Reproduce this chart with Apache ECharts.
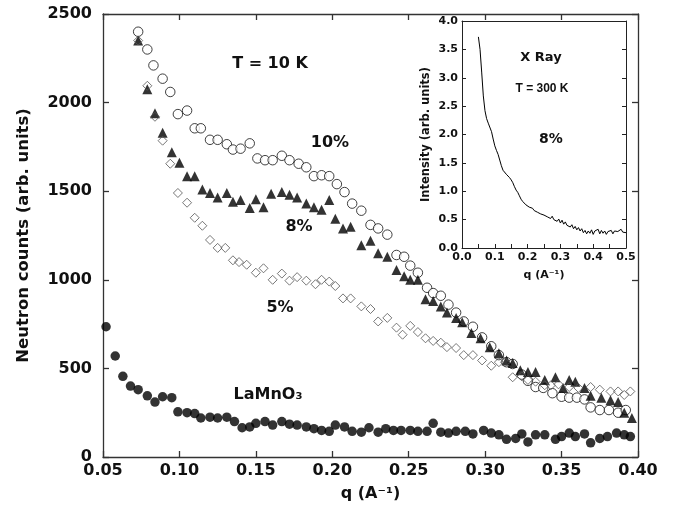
<!DOCTYPE html>
<html>
<head>
<meta charset="utf-8">
<script src="https://cdn.jsdelivr.net/npm/echarts@6/dist/echarts.min.js"></script>
<style>
  html, body { margin: 0; padding: 0; background: #fff; }
  #chart { width: 678px; height: 512px; }
</style>
</head>
<body>
<div id="chart"></div>
<script>
// 10 % sample, open circles
const q10 = [0.073,0.079,0.083,0.089,0.094,0.099,0.105,0.110,0.114,0.120,0.125,0.131,0.135,0.140,0.146,0.151,0.156,0.161,0.167,0.172,0.178,0.183,0.188,0.193,0.198,0.203,0.208,0.213,0.219,0.225,0.230,0.236,0.242,0.247,0.251,0.256,0.262,0.266,0.271,0.276,0.281,0.286,0.292,0.298,0.304,0.309,0.314,0.318,0.324,0.328,0.333,0.338,0.344,0.350,0.355,0.360,0.365,0.369,0.375,0.381,0.387,0.392];
const counts10 = [2400,2300,2210,2135,2060,1935,1955,1855,1855,1790,1790,1765,1735,1740,1770,1685,1675,1675,1700,1675,1655,1635,1585,1590,1585,1540,1495,1430,1390,1310,1290,1255,1140,1130,1080,1040,955,925,910,860,815,765,735,675,625,575,535,525,465,430,395,390,360,340,335,335,325,280,265,265,250,265];

// 8 % sample, filled triangles
const q8 = [0.073,0.079,0.084,0.089,0.095,0.100,0.105,0.110,0.115,0.120,0.125,0.131,0.135,0.140,0.146,0.150,0.155,0.160,0.167,0.172,0.177,0.183,0.188,0.193,0.198,0.202,0.207,0.212,0.219,0.225,0.230,0.236,0.242,0.247,0.251,0.256,0.261,0.266,0.271,0.275,0.281,0.285,0.291,0.297,0.303,0.309,0.314,0.318,0.323,0.328,0.333,0.339,0.346,0.351,0.355,0.359,0.365,0.369,0.376,0.382,0.387,0.391,0.396];
const counts8 = [2350,2075,1940,1830,1720,1660,1585,1585,1510,1490,1465,1490,1440,1450,1405,1455,1410,1485,1495,1480,1465,1430,1410,1395,1450,1345,1290,1300,1195,1220,1150,1130,1055,1020,1000,1000,890,880,850,815,785,760,700,670,620,585,545,530,490,480,480,435,450,390,435,425,390,345,335,320,310,250,220];

// 5 % sample, open diamonds
const q5 = [0.073,0.079,0.084,0.089,0.094,0.099,0.105,0.110,0.115,0.120,0.125,0.130,0.135,0.139,0.144,0.150,0.155,0.161,0.167,0.172,0.177,0.183,0.189,0.193,0.198,0.202,0.207,0.212,0.219,0.225,0.230,0.236,0.242,0.246,0.251,0.256,0.261,0.266,0.271,0.275,0.281,0.286,0.292,0.298,0.304,0.309,0.313,0.318,0.324,0.328,0.333,0.339,0.343,0.348,0.355,0.361,0.369,0.375,0.382,0.387,0.391,0.395];
const counts5 = [2350,2095,1920,1785,1655,1490,1435,1350,1305,1225,1180,1180,1110,1100,1085,1040,1065,1000,1035,995,1015,995,975,1000,990,965,895,895,850,835,765,785,730,690,740,705,670,655,645,620,615,575,575,545,515,535,535,450,455,435,425,405,405,410,395,390,395,380,370,370,350,370];

// LaMnO3, filled circles
const qLa = [0.052,0.058,0.063,0.068,0.073,0.079,0.084,0.089,0.095,0.099,0.105,0.110,0.114,0.120,0.125,0.131,0.136,0.141,0.146,0.150,0.156,0.161,0.167,0.172,0.177,0.183,0.188,0.193,0.198,0.202,0.208,0.213,0.219,0.224,0.230,0.235,0.240,0.245,0.251,0.256,0.262,0.266,0.271,0.276,0.281,0.287,0.292,0.299,0.304,0.309,0.314,0.320,0.324,0.328,0.333,0.339,0.346,0.350,0.355,0.359,0.365,0.369,0.375,0.380,0.386,0.391,0.395];
const countsLa = [735,570,455,400,380,345,310,340,335,255,250,245,220,225,220,225,200,165,170,190,200,180,200,185,180,170,160,150,145,180,170,145,140,165,140,160,150,150,150,145,145,190,140,135,145,145,130,150,135,125,100,105,130,85,125,125,100,115,135,115,130,80,105,115,135,125,115];

// inset: X-ray intensity, 8 %, T = 300 K
const xrayQ = [0.050,0.055,0.060,0.065,0.070,0.075,0.080,0.085,0.090,0.095,0.100,0.105,0.110,0.115,0.120,0.125,0.130,0.135,0.140,0.145,0.150,0.155,0.160,0.165,0.170,0.175,0.180,0.185,0.190,0.195,0.200,0.205,0.210,0.215,0.220,0.225,0.230,0.235,0.240,0.245,0.250,0.255,0.260,0.265,0.270,0.275,0.280,0.285,0.290,0.295,0.300,0.305,0.310,0.315,0.320,0.325,0.330,0.335,0.340,0.345,0.350,0.355,0.360,0.365,0.370,0.375,0.380,0.385,0.390,0.395,0.400,0.405,0.410,0.415,0.420,0.425,0.430,0.435,0.440,0.445,0.450,0.455,0.460,0.465,0.470,0.475,0.480,0.485,0.490,0.495,0.500];
const xrayI = [3.72,3.50,3.10,2.68,2.42,2.28,2.20,2.22,2.05,1.92,1.80,1.72,1.65,1.55,1.45,1.37,1.34,1.30,1.28,1.24,1.20,1.15,1.08,1.02,0.98,0.92,0.86,0.82,0.85,0.76,0.78,0.72,0.75,0.70,0.66,0.68,0.63,0.65,0.60,0.63,0.58,0.61,0.55,0.57,0.52,0.56,0.50,0.53,0.47,0.51,0.44,0.49,0.42,0.46,0.40,0.43,0.37,0.41,0.34,0.38,0.32,0.36,0.30,0.34,0.27,0.31,0.25,0.30,0.26,0.32,0.24,0.30,0.27,0.33,0.25,0.31,0.26,0.30,0.24,0.29,0.27,0.31,0.25,0.30,0.27,0.29,0.26,0.33,0.28,0.30,0.27];

const pairs = (xs, ys) => xs.map((x, i) => [x, ys[i]]);

const FONT = "'DejaVu Sans', sans-serif";
const INK = '#111';

function frameAxis(extra) {
  return Object.assign({
    type: 'value',
    axisLine: { show: true, onZero: false, lineStyle: { color: '#333', width: 1.3 } },
    axisTick: { show: true, inside: true, length: 6, lineStyle: { color: '#333', width: 1.3 } },
    splitLine: { show: false },
  }, extra);
}

const myChart = echarts.init(document.getElementById('chart'));
const option = {
  animation: false,
  backgroundColor: '#fff',
  grid: [
    { left: 103, top: 14, right: 40, bottom: 55 },
    { left: 462, top: 21, right: 52, bottom: 264, show: true, backgroundColor: '#fff', borderWidth: 0 },
  ],
  xAxis: [
    frameAxis({
      gridIndex: 0, position: 'bottom', min: 0.05, max: 0.40, interval: 0.05,
      axisLabel: { margin: 6, color: INK, fontFamily: FONT, fontWeight: 'bold', fontSize: 16,
        formatter: v => v.toFixed(2) },
      name: 'q (A⁻¹)', nameLocation: 'middle', nameGap: 29,
      nameTextStyle: { color: INK, fontFamily: FONT, fontWeight: 'bold', fontSize: 16 },
    }),
    frameAxis({ gridIndex: 0, position: 'top', min: 0.05, max: 0.40, interval: 0.05,
      axisLabel: { show: false } }),
    frameAxis({
      gridIndex: 1, position: 'bottom', min: 0, max: 0.5, interval: 0.1,
      axisTick: { show: true, inside: true, length: 4, lineStyle: { color: '#222', width: 1 } },
      minorTick: { show: true, splitNumber: 2, length: 4, lineStyle: { color: '#222', width: 1 } },
      axisLine: { show: true, onZero: false, lineStyle: { color: '#222', width: 1 } },
      axisLabel: { margin: 4, color: INK, fontFamily: FONT, fontWeight: 'bold', fontSize: 11,
        formatter: v => v.toFixed(1) },
      name: 'q (A⁻¹)', nameLocation: 'middle', nameGap: 22,
      nameTextStyle: { color: INK, fontFamily: FONT, fontWeight: 'bold', fontSize: 11 },
    }),
    frameAxis({
      gridIndex: 1, position: 'top', min: 0, max: 0.5, interval: 0.1,
      axisTick: { show: false },
      axisLine: { show: true, onZero: false, lineStyle: { color: '#222', width: 1 } },
      axisLabel: { show: false },
    }),
  ],
  yAxis: [
    frameAxis({
      gridIndex: 0, position: 'left', min: 0, max: 2500, interval: 500,
      axisLabel: { margin: 11, color: INK, fontFamily: FONT, fontWeight: 'bold', fontSize: 16,
        formatter: v => String(v) },
      name: 'Neutron counts (arb. units)', nameLocation: 'middle', nameGap: 71,
      nameTextStyle: { color: INK, fontFamily: FONT, fontWeight: 'bold', fontSize: 16.5 },
    }),
    frameAxis({ gridIndex: 0, position: 'right', min: 0, max: 2500, interval: 500,
      axisLabel: { show: false } }),
    frameAxis({
      gridIndex: 1, position: 'left', min: 0, max: 4, interval: 0.5,
      axisTick: { show: true, inside: true, length: 4, lineStyle: { color: '#222', width: 1 } },
      axisLine: { show: true, onZero: false, lineStyle: { color: '#222', width: 1 } },
      axisLabel: { margin: 4, color: INK, fontFamily: FONT, fontWeight: 'bold', fontSize: 11,
        formatter: v => v.toFixed(1) },
      name: 'Intensity (arb. units)', nameLocation: 'middle', nameGap: 30,
      nameTextStyle: { color: INK, fontFamily: FONT, fontWeight: 'bold', fontSize: 11.5 },
    }),
    frameAxis({
      gridIndex: 1, position: 'right', min: 0, max: 4, interval: 0.5,
      axisTick: { show: true, inside: true, length: 4, lineStyle: { color: '#222', width: 1 } },
      axisLine: { show: true, onZero: false, lineStyle: { color: '#222', width: 1 } },
      axisLabel: { show: false },
    }),
  ],
  series: [
    {
      name: '10%', type: 'scatter', xAxisIndex: 0, yAxisIndex: 0,
      symbol: 'circle', symbolSize: 9.5,
      itemStyle: { color: '#fff', borderColor: '#111', borderWidth: 1 },
      data: pairs(q10, counts10),
    },
    {
      name: '8%', type: 'scatter', xAxisIndex: 0, yAxisIndex: 0,
      symbol: 'triangle', symbolSize: 10,
      itemStyle: { color: '#000' },
      data: pairs(q8, counts8),
    },
    {
      name: '5%', type: 'scatter', xAxisIndex: 0, yAxisIndex: 0,
      symbol: 'diamond', symbolSize: [9, 9],
      itemStyle: { color: 'rgba(255,255,255,0)', borderColor: '#555', borderWidth: 1 },
      data: pairs(q5, counts5),
    },
    {
      name: 'LaMnO3', type: 'scatter', xAxisIndex: 0, yAxisIndex: 0,
      symbol: 'circle', symbolSize: 9.5,
      itemStyle: { color: '#000' },
      data: pairs(qLa, countsLa),
    },
    {
      name: 'X Ray', type: 'line', xAxisIndex: 2, yAxisIndex: 2,
      showSymbol: false, symbol: 'none',
      lineStyle: { color: '#000', width: 1 },
      data: pairs(xrayQ, xrayI),
    },
  ],
  graphic: [
    { type: 'text', x: 270, y: 64, style: { text: 'T = 10 K', font: 'bold 16px ' + FONT, fill: INK, align: 'center', verticalAlign: 'middle' } },
    { type: 'text', x: 330, y: 143, style: { text: '10%', font: 'bold 16px ' + FONT, fill: INK, align: 'center', verticalAlign: 'middle' } },
    { type: 'text', x: 299, y: 227, style: { text: '8%', font: 'bold 16px ' + FONT, fill: INK, align: 'center', verticalAlign: 'middle' } },
    { type: 'text', x: 280, y: 308, style: { text: '5%', font: 'bold 16px ' + FONT, fill: INK, align: 'center', verticalAlign: 'middle' } },
    { type: 'text', x: 268, y: 395, style: { text: 'LaMnO₃', font: 'bold 16px ' + FONT, fill: INK, align: 'center', verticalAlign: 'middle' } },
    { type: 'text', x: 541, y: 58, style: { text: 'X Ray', font: 'bold 13px ' + FONT, fill: INK, align: 'center', verticalAlign: 'middle' } },
    { type: 'text', x: 542, y: 89, style: { text: 'T = 300 K', font: 'bold 12px "Liberation Sans", sans-serif', fill: INK, align: 'center', verticalAlign: 'middle' } },
    { type: 'text', x: 551, y: 139, style: { text: '8%', font: 'bold 14px ' + FONT, fill: INK, align: 'center', verticalAlign: 'middle' } },
  ],
};
myChart.setOption(option);
</script>
</body>
</html>
